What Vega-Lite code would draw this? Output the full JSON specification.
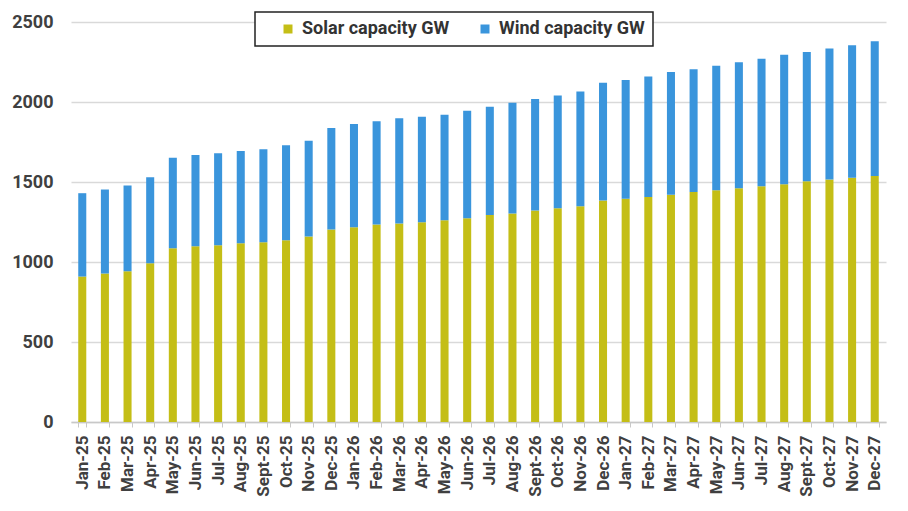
{
  "$schema": "https://vega.github.io/schema/vega-lite/v6.json",
  "width": 815,
  "height": 400,
  "autosize": {"type": "none"},
  "padding": {"left": 71, "top": 22, "right": 22, "bottom": 89},
  "background": "white",
  "data": {
    "values": [
      {"month": "Jan-25", "solar": 909, "wind": 521},
      {"month": "Feb-25", "solar": 928, "wind": 525},
      {"month": "Mar-25", "solar": 942, "wind": 536},
      {"month": "Apr-25", "solar": 992, "wind": 538},
      {"month": "May-25", "solar": 1086, "wind": 565},
      {"month": "Jun-25", "solar": 1099, "wind": 569},
      {"month": "Jul-25", "solar": 1105, "wind": 575},
      {"month": "Aug-25", "solar": 1117, "wind": 576},
      {"month": "Sept-25", "solar": 1124, "wind": 581},
      {"month": "Oct-25", "solar": 1136, "wind": 593},
      {"month": "Nov-25", "solar": 1159, "wind": 599},
      {"month": "Dec-25", "solar": 1203, "wind": 634},
      {"month": "Jan-26", "solar": 1217, "wind": 645},
      {"month": "Feb-26", "solar": 1234, "wind": 645},
      {"month": "Mar-26", "solar": 1240, "wind": 658},
      {"month": "Apr-26", "solar": 1249, "wind": 659},
      {"month": "May-26", "solar": 1261, "wind": 660},
      {"month": "Jun-26", "solar": 1274, "wind": 671},
      {"month": "Jul-26", "solar": 1293, "wind": 677},
      {"month": "Aug-26", "solar": 1303, "wind": 692},
      {"month": "Sept-26", "solar": 1322, "wind": 696},
      {"month": "Oct-26", "solar": 1336, "wind": 705},
      {"month": "Nov-26", "solar": 1349, "wind": 717},
      {"month": "Dec-26", "solar": 1384, "wind": 736},
      {"month": "Jan-27", "solar": 1395, "wind": 742},
      {"month": "Feb-27", "solar": 1407, "wind": 753},
      {"month": "Mar-27", "solar": 1420, "wind": 767},
      {"month": "Apr-27", "solar": 1438, "wind": 766},
      {"month": "May-27", "solar": 1449, "wind": 778},
      {"month": "Jun-27", "solar": 1461, "wind": 787},
      {"month": "Jul-27", "solar": 1474, "wind": 797},
      {"month": "Aug-27", "solar": 1486, "wind": 810},
      {"month": "Sept-27", "solar": 1505, "wind": 807},
      {"month": "Oct-27", "solar": 1516, "wind": 819},
      {"month": "Nov-27", "solar": 1526, "wind": 828},
      {"month": "Dec-27", "solar": 1537, "wind": 842}
    ]
  },
  "transform": [
    {"fold": ["solar", "wind"], "as": ["source", "gw"]},
    {"calculate": "datum.source === 'solar' ? 'Solar capacity GW' : 'Wind capacity GW'", "as": "series"},
    {"calculate": "datum.source === 'solar' ? 0 : 1", "as": "stackOrder"}
  ],
  "mark": {"type": "bar"},
  "encoding": {
    "x": {
      "field": "month",
      "type": "nominal",
      "sort": null,
      "scale": {"paddingInner": 0.645, "paddingOuter": 0.32},
      "axis": {
        "title": null,
        "labelAngle": -90,
        "labelAlign": "right",
        "labelBaseline": "middle",
        "labelFont": "Roboto",
        "labelFontWeight": "bold",
        "labelFontSize": 17,
        "labelColor": "#404040",
        "labelPadding": 8,
        "domainColor": "#c8c8c8",
        "domainWidth": 1.5,
        "tickColor": "#c8c8c8",
        "tickSize": 5,
        "tickBand": "extent",
        "grid": false
      }
    },
    "y": {
      "field": "gw",
      "type": "quantitative",
      "stack": "zero",
      "scale": {"domain": [0, 2500], "nice": false},
      "axis": {
        "title": null,
        "values": [0, 500, 1000, 1500, 2000, 2500],
        "format": "d",
        "domain": false,
        "ticks": false,
        "labelFont": "Roboto",
        "labelFontWeight": "bold",
        "labelFontSize": 18,
        "labelColor": "#404040",
        "labelPadding": 18,
        "gridColor": "#d9d9d9",
        "gridWidth": 1.5
      }
    },
    "color": {
      "field": "series",
      "type": "nominal",
      "scale": {"domain": ["Solar capacity GW", "Wind capacity GW"], "range": ["#c4be16", "#3a95dc"]},
      "legend": {
        "title": null,
        "orient": "none",
        "legendX": 184,
        "legendY": -10,
        "direction": "horizontal",
        "symbolType": "square",
        "symbolSize": 81,
        "symbolStrokeWidth": 0,
        "symbolOffset": 16,
        "labelFont": "Roboto",
        "labelFontWeight": "bold",
        "labelFontSize": 18,
        "labelColor": "#333333",
        "labelOffset": 5,
        "labelLimit": 300,
        "labelExpr": "datum.label == 'Wind capacity GW' ? datum.label + '\u00a0\u00a0' : datum.label",
        "columnPadding": 10,
        "padding": 8,
        "strokeColor": "#222222",
        "fillColor": "white",
        "encode": {"legend": {"update": {"strokeWidth": {"value": 1.5}}}}
      }
    },
    "order": {"field": "stackOrder", "type": "quantitative"}
  },
  "config": {"view": {"stroke": null}}
}
